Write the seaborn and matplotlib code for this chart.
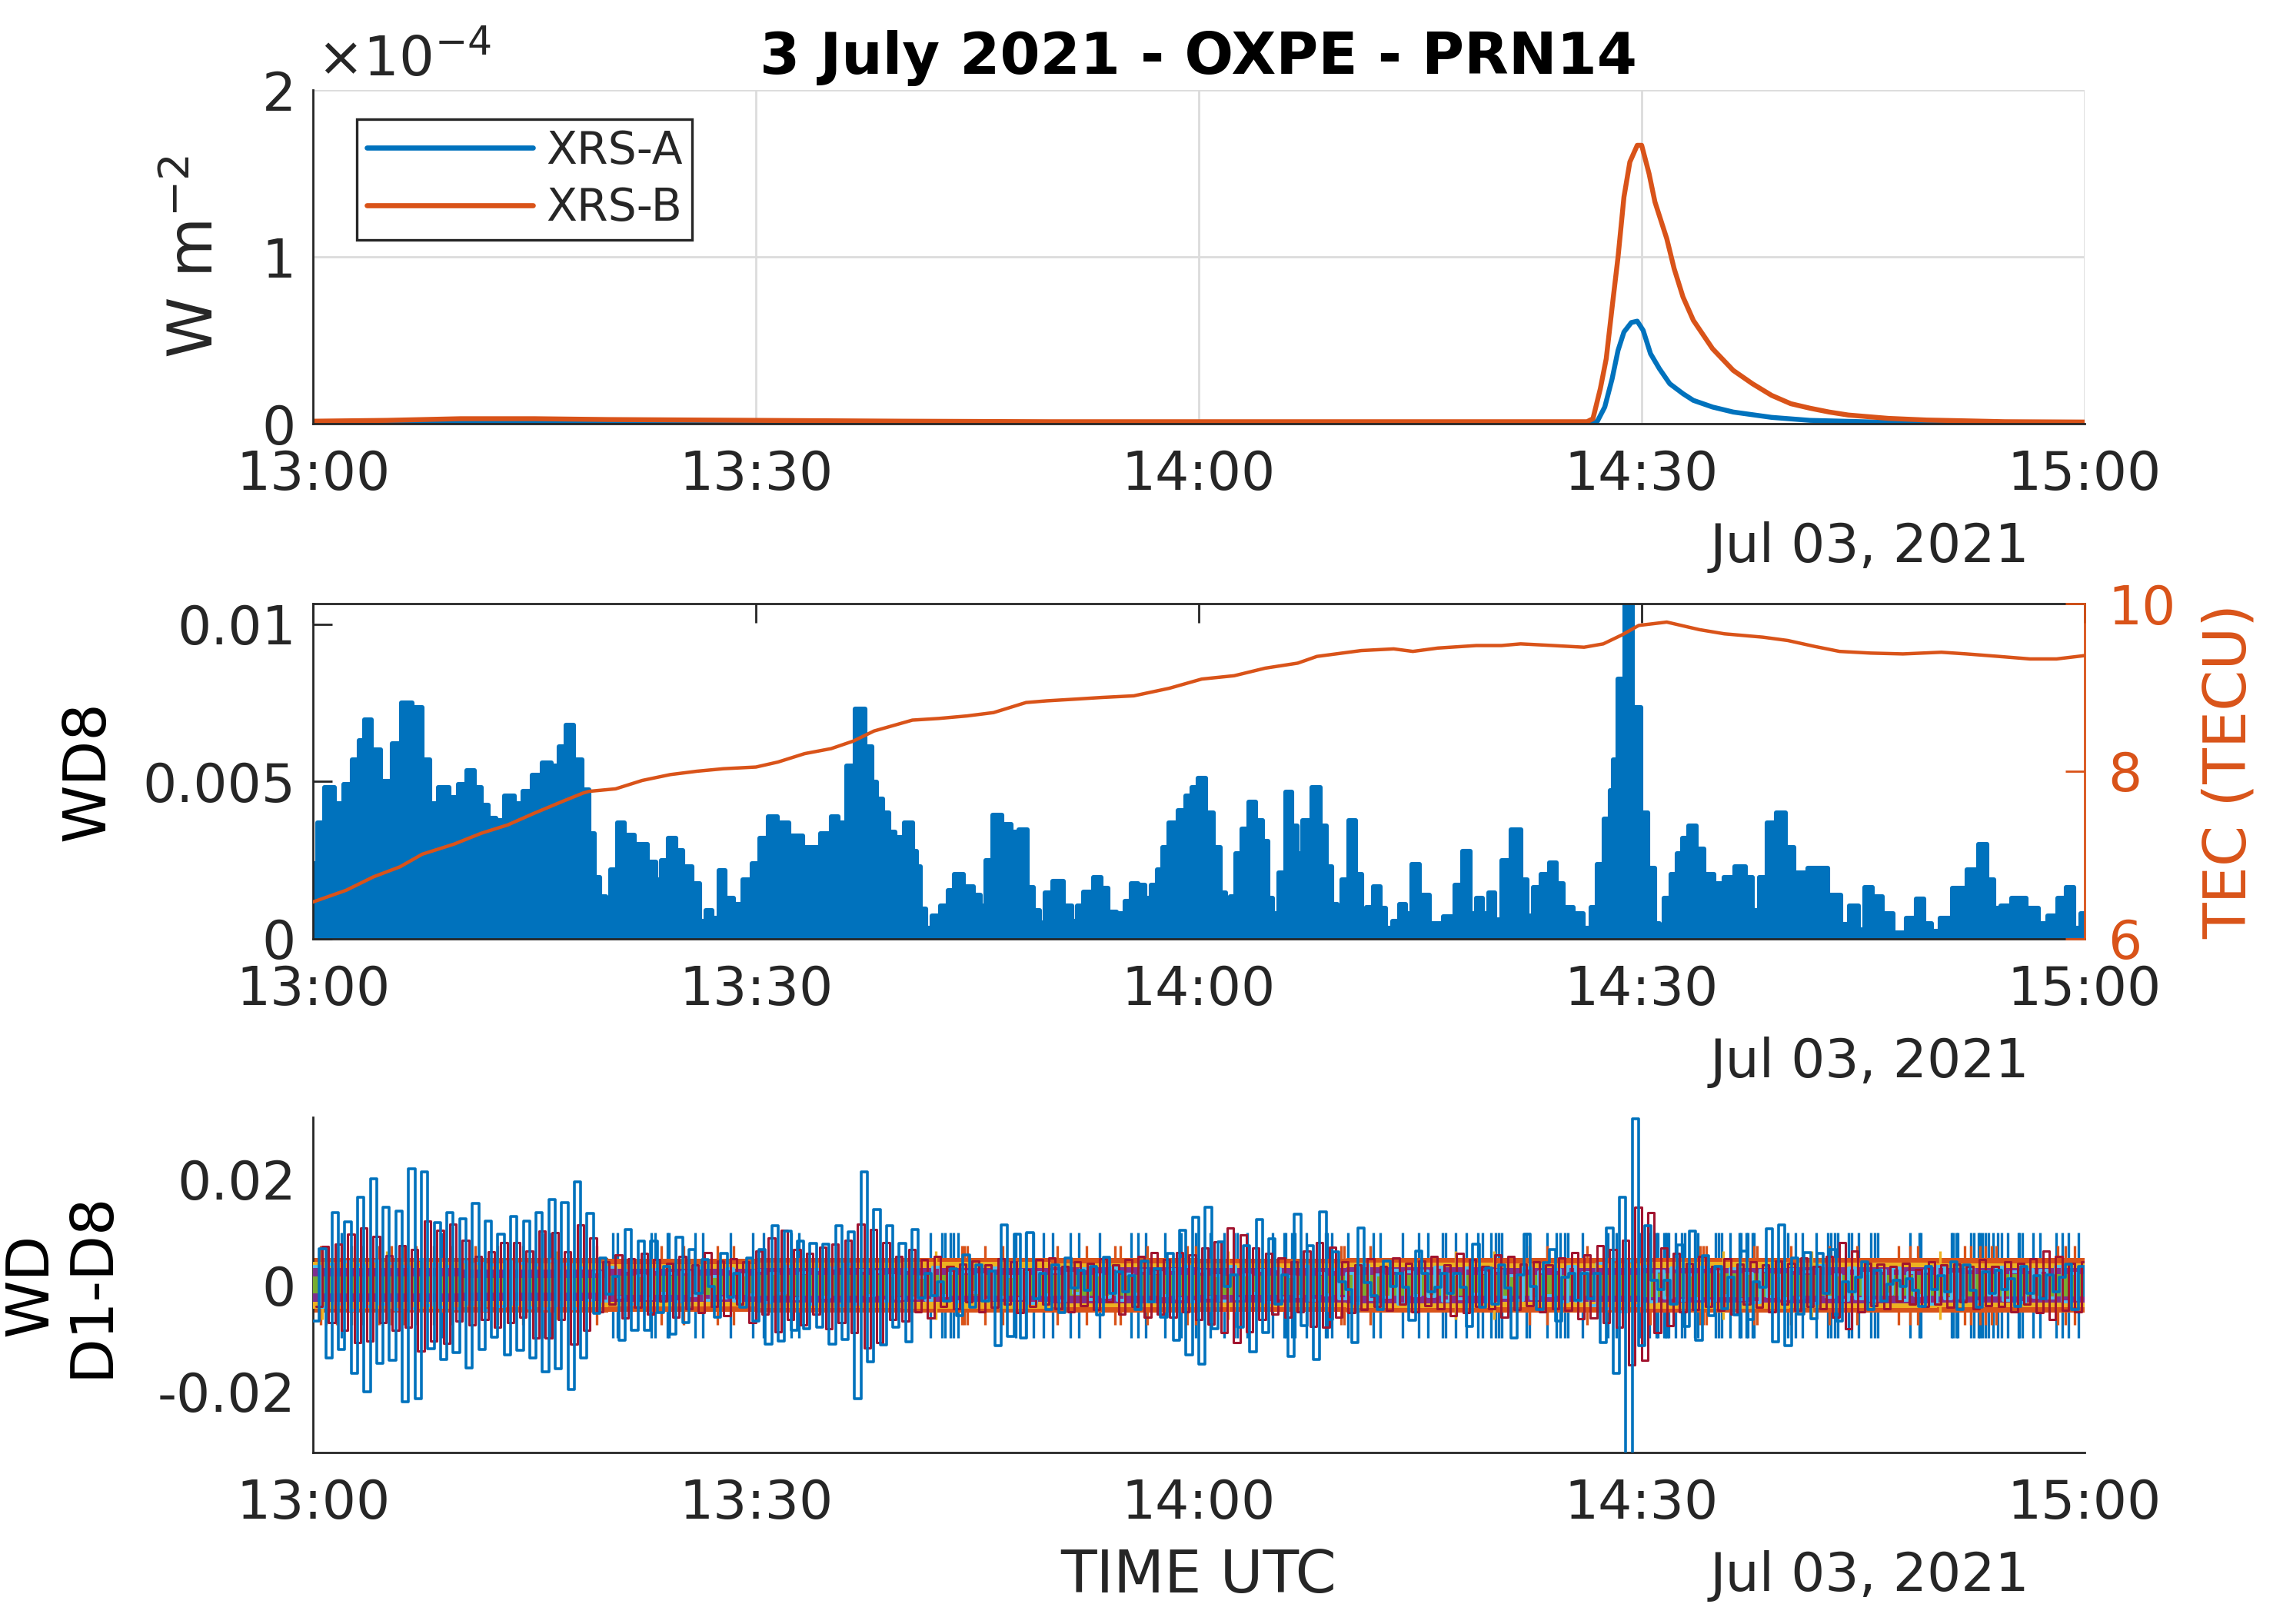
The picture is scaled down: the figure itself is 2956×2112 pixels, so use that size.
import numpy as np
import matplotlib
matplotlib.use('Agg')
import matplotlib.pyplot as plt
import seaborn as sns

# MATLAB default line colours
BLUE = '#0072BD'
ORANGE = '#D95319'
YELLOW = '#EDB120'
PURPLE = '#7E2F8E'
GREEN = '#77AC30'
CYAN = '#4DBEEE'
RED = '#A2142F'
INK = '#262626'

# x axis: minutes after 13:00 UTC
tick_pos = [0, 30, 60, 90, 120]
tick_labels = ['13:00', '13:30', '14:00', '14:30', '15:00']
date_label = 'Jul 03, 2021'

# --- GOES X-ray flux (units of 1e-4 W m^-2) ---
xrs_a_min = [0, 20, 40, 60, 80, 86.6, 87.0, 87.5, 88.0, 88.4, 88.8, 89.3, 89.7, 90.1, 90.6,
             91.2, 91.9, 92.8, 93.5, 94.8, 96.2, 98.8, 101.4, 106.7, 120]
xrs_a = [0.003, 0.004, 0.002, 0.001, 0.001, 0.002, 0.015, 0.10, 0.27, 0.44, 0.55, 0.607, 0.615,
         0.56, 0.42, 0.33, 0.24, 0.18, 0.14, 0.10, 0.07, 0.038, 0.02, 0.008, 0.002]
xrs_b_min = [0, 5, 10, 15, 20, 30, 40, 50, 60, 70, 80, 86.3, 86.7, 87.2, 87.6, 88.0, 88.4, 88.8,
             89.2, 89.7, 90.0, 90.5, 90.9, 91.7, 92.2, 92.8, 93.5, 94.8, 96.2, 97.5, 98.8, 100.1,
             101.4, 102.7, 104.0, 106.7, 109.3, 112.0, 114.6, 120]
xrs_b = [0.015, 0.02, 0.03, 0.03, 0.025, 0.02, 0.015, 0.012, 0.012, 0.012, 0.012, 0.012, 0.03,
         0.21, 0.39, 0.70, 1.0, 1.36, 1.57, 1.67, 1.67, 1.50, 1.33, 1.11, 0.93, 0.76, 0.62, 0.45,
         0.32, 0.24, 0.17, 0.12, 0.093, 0.07, 0.052, 0.032, 0.022, 0.017, 0.012, 0.01]

# --- WD8 envelope (units of 1e-3) ---
wd8_min = [0.0, 0.1, 0.5, 1.1, 1.8, 2.4, 2.9, 3.3, 3.7, 4.2, 5.0, 5.7, 6.3, 7.1, 7.7, 8.1, 8.9,
           9.5, 10.2, 10.65, 11.2, 11.6, 12.1, 12.65, 13.3, 13.95, 14.5, 15.2, 15.85, 16.4, 16.9,
           17.4, 17.95, 18.5, 18.9, 19.2, 19.7, 20.0, 20.3, 20.9, 21.3, 22.2, 23.1, 23.4, 23.8,
           24.35, 24.8, 25.35, 26.0, 26.4, 26.8, 27.3, 27.65, 28.2, 28.75, 29.5, 30.0, 30.55,
           31.1, 31.85, 32.6, 33.75, 34.95, 35.3, 35.85, 36.4, 37.05, 37.7, 38.0, 38.4, 38.8,
           39.2, 39.7, 40.4, 40.8, 41.0, 41.3, 41.7, 42.15, 42.8, 43.2, 43.7, 44.45, 45.0, 45.4,
           45.7, 46.35, 47.0, 47.55, 48.1, 48.65, 49.0, 49.4, 49.75, 50.45, 51.2, 51.6, 51.9,
           52.5, 53.2, 53.6, 54.1, 54.8, 55.2, 55.6,
           56.2, 56.5, 57.0, 57.4, 57.7, 58.25, 58.9, 59.35, 59.7, 60.2, 60.75, 61.25, 61.7,
           61.95, 62.3, 62.7, 63.1, 63.65, 64.1, 64.5, 64.85, 65.2, 65.6, 66.15, 66.5, 66.8, 67.3,
           68.0, 68.5, 68.8, 69.2, 69.5, 69.9, 70.4, 70.9, 71.2, 71.55, 72.1, 72.5, 72.8, 73.4,
           73.8, 74.2, 74.7, 75.2, 76.05, 77.05, 77.6, 78.15, 78.6, 79.0, 79.4, 79.85, 80.3, 80.7,
           81.6, 82.1, 82.4, 82.9, 83.5, 84.05, 84.4, 84.95, 85.8, 86.3, 86.8, 87.2, 87.75, 88.0,
           88.2, 88.6, 89.1, 89.7, 90.2, 90.65, 91.1, 91.3, 91.75, 92.2, 92.6, 92.9, 93.45, 93.9,
           94.55, 95.2, 95.95, 96.7, 97.35, 97.7, 98.2, 98.75, 99.5, 100.0, 100.6, 101.95, 103.3,
           103.7, 104.45, 104.9, 105.3, 106.0, 106.6, 107.45, 108.35, 108.8, 109.4, 109.9, 110.5,
           111.6, 112.5, 113.1, 113.65, 114.1, 114.6, 115.55, 116.55, 117.2, 117.85, 118.5, 119.0,
           119.5, 120.0]
wd8_val = [0.6, 2.4, 3.7, 4.8, 4.3, 4.9, 5.7, 6.3, 6.95, 6.0, 5.0, 6.2, 7.5, 7.35, 5.7, 4.3, 4.8,
           4.5, 4.9, 5.35, 4.8, 4.25, 3.84, 3.76, 4.54, 4.3, 4.7, 5.2, 5.6, 5.5, 6.1,
           6.8, 5.7, 4.75, 3.35, 1.96, 1.35, 1.06, 2.2, 3.7, 3.3, 3.0, 2.45, 1.88, 2.5,
           3.2, 2.8, 2.3, 1.75, 0.57, 0.9, 0.66, 2.17, 1.3, 1.1, 1.88, 2.4, 3.2,
           3.88, 3.68, 3.27, 2.9, 3.35, 3.88, 3.68, 5.5, 7.3, 6.1, 4.98, 4.45, 4.0,
           3.4, 3.23, 3.68, 2.78, 2.3, 0.94, 0.33, 0.74, 1.06, 1.55, 2.04, 1.67, 1.4, 1.06,
           2.49, 3.92, 3.63, 3.4, 3.47, 1.63, 0.9, 0.5, 1.47, 1.83, 1.06, 0.57, 1.06,
           1.5, 1.96, 1.6, 0.86, 0.8, 1.2, 1.75,
           1.72, 1.3, 1.72, 2.2, 2.9, 3.68, 4.08, 4.54, 4.8, 5.1, 4.0, 2.9, 1.47,
           0.33, 1.35, 2.7, 3.5, 4.35, 3.76, 3.1, 1.3, 0.8, 2.1, 4.66, 3.6, 2.7, 3.76,
           4.8, 3.6, 2.3, 1.1, 0.74, 1.88, 3.76, 2.04, 0.74, 1.0, 1.67, 0.98, 0.33, 0.57,
           1.1, 0.8, 2.37, 1.4, 0.49, 0.7, 1.72, 2.78, 0.8, 1.3, 0.8, 1.47, 0.6, 2.5,
           3.47, 1.88, 0.74, 1.63, 2.04, 2.41, 1.75, 1.0, 0.8, 0.33, 1.0, 2.37, 3.8, 4.72,
           5.7, 8.25, 12.0, 7.36, 4.0, 2.25, 0.49, 0.2, 1.3, 2.04, 2.7, 3.2, 3.6, 2.85,
           2.04, 1.75, 1.96, 2.3, 1.96, 0.9, 1.96, 3.68, 4.0, 2.9, 2.1, 2.25, 1.4,
           0.46, 1.06, 0.3, 1.63, 1.35, 0.8, 0.2, 0.66, 1.27, 0.49, 0.25, 0.66,
           1.6, 2.2, 3.0, 1.88, 0.98, 1.06, 1.3, 0.98, 0.49, 0.74, 1.3, 1.63,
           0.33, 0.8]

# --- TEC (TECU) ---
tec_min = [0, 2.25, 4.1, 5.9, 7.4, 9.55, 11.4, 13.2, 15.0, 16.9, 18.3, 18.7, 20.5, 22.3, 24.2,
           26.0, 27.8, 30.0, 31.5, 33.3, 35.1, 36.6, 38.0, 40.6, 42.4, 44.3, 46.1, 47.2, 48.3,
           49.7, 51.6, 53.4, 55.6, 58.0, 60.2, 62.4, 64.5, 66.7, 68.0, 71.0, 73.2, 74.5, 76.2,
           78.8, 80.5, 81.8, 84.0, 86.1, 87.4, 88.7, 89.8, 91.7, 93.9, 95.6, 98.2, 99.9, 101.7,
           103.4, 105.5, 107.7, 110.3, 112.0, 114.2, 116.3, 118.1, 120.0]
tec = [6.44, 6.58, 6.74, 6.86, 7.01, 7.13, 7.26, 7.36, 7.50, 7.64, 7.74, 7.76, 7.79, 7.89, 7.96,
       8.0, 8.03, 8.05, 8.11, 8.21, 8.27, 8.36, 8.48, 8.61, 8.63, 8.66, 8.70, 8.76, 8.82,
       8.84, 8.86, 8.88, 8.90, 8.99, 9.10, 9.14, 9.23, 9.29, 9.37, 9.44, 9.46, 9.43, 9.47,
       9.50, 9.50, 9.52, 9.50, 9.48, 9.52, 9.63, 9.74, 9.78, 9.69, 9.64, 9.60, 9.56, 9.49,
       9.43, 9.41, 9.40, 9.42, 9.40, 9.37, 9.34, 9.34, 9.38]

# --- wavelet details D1-D8 (units of 1e-3) ---
# D8: one value per half cycle
d8 = [-6.8, 6.9, -13.8, 13.8, -12.1, 12.0, -16.6, 16.7, -20.2, 20.2,
      -14.8, 14.7, -14.2, 14.1, -22.0, 22.0, -21.5, 21.4, -12.0, 11.9,
      -14.1, 13.8, -12.7, 12.6, -15.6, 15.5, -12.2, 12.1, -9.8, 9.7,
      -13.1, 13.0, -12.3, 12.1, -13.8, 13.7, -16.3, 16.2, -15.8, 15.7,
      -19.7, 19.6, -13.8, 13.6,
      -5.3, 5.2, -1.7, 1.6, -10.4, 10.5, -8.5, 8.4, -8.5, 8.4,
      -5.1, 3.6, -9.2, 9.1, -7.0, 6.7, -1.5, 4.9, -0.2, -6.0,
      6.1, -2.2, 2.2, -4.1, 5.1, -6.8,
      6.8, -11.2, 11.2, -10.5, 10.3, -8.5, 8.3, -8.2, 7.9, -8.0,
      7.8, -11.2, 11.2, -10.2, 10.1, -21.4, 21.4, -14.4, 14.3, -11.3,
      11.2, -8.0, 7.9, -10.7, 10.5, -2.4, 2.3, -2.0, 0.7, -3.0,
      3.1, -5.8, 5.7, -4.1, 3.8, -3.0, 2.7, -11.4, 11.4, -9.7,
      9.6, -10.0, 9.9,
      -2.5, 2.2, -4.6, 3.9, -5.1, 5.2, -0.5, 2.8, -1.0, 3.6,
      -5.6, 5.3, -1.5, 2.5, -1.2, 1.8, -4.6, 4.6, -3.1, 3.1,
      -6.0, 6.0, -10.4, 10.4, -13.1, 12.9, -14.9, 14.8,
      -8.2, 8.2, -0.2, 2.0, -8.0, 7.5, -12.6, 12.5, -9.0, 8.8,
      -3.5, 2.0, -13.5, 13.4, -7.6, 7.5, -14.1, 13.9, -6.5, 6.3,
      0.7, -0.8, -10.9, 10.8, 0.5, -2.0, -4.6, 4.6, -0.2, 2.2,
      -0.3, -6.6, 6.5, 2.2, -1.2, -0.3, 2.2, -1.6, 2.2, -0.3,
      -7.8, 7.8, -4.1, 3.2, -3.6, 3.9, -0.5, -10.0, 2.0, 9.7,
      -0.2, -4.6, 4.3, 6.7, -6.8, 1.5, 2.2, -2.8, 2.2, -2.5,
      2.2, -10.9, 10.8, -16.7, 16.7, -33.0, 31.5, -11.4, 11.3,
      0.9, -0.8, 0.9, -3.5, 7.7, -7.8, 10.3, -10.4, 5.6, -5.8,
      3.6, -4.4, 1.5, -5.6, 6.5, -6.5, 0.7, -0.3, 10.7, -10.7,
      11.4, -11.4, 5.2, -5.5, 6.2, -6.3, 6.0, -1.5, 6.7, -6.8,
      0.7, -1.3, 1.5, 4.5, -4.6, 2.8, -3.0, 0.2, 1.0, -0.2,
      1.2, -1.0, -4.0, 3.6, -0.8, 1.8, -1.2, 4.5, -4.6, 3.8,
      -1.0, -4.1, 2.5, -1.5, 2.8, -0.8, 1.2, -4.0, 3.6, -1.5,
      1.8, -2.5, 2.0, -1.2, 1.5, 4.0, -4.6, 3.6, -2.0]

d7 = [-4.0, 7.3, -7.0, 7.8, -8.5, 9.6, -10.9, 10.9, -10.5, 9.2,
      -7.0, 5.6, -8.5, 7.5, -8.0, 6.8, -12.4, 12.1, -10.5, 10.4,
      -11.0, 11.6, -6.8, 8.5, -7.5, 5.5, -6.5, 6.3, -8.0, 8.0,
      -7.0, 8.0, -6.0, 6.5, -9.9, 10.2, -10.0, 10.0, -6.5, 6.3,
      -11.2, 11.4, -8.5, 9.0,
      -5.0, 4.5, -3.5, 5.8, -6.2, 5.0, -4.2, 6.0, -5.5, 4.8,
      -3.0, 4.2, -6.0, 5.5, -4.5, 3.8, -5.2, 6.2, -4.0, 4.6,
      -5.8, 5.0, -3.6, 4.4, -7.0, 6.5, -5.5, 9.0, -8.8, 10.4,
      -6.5, 6.8, -7.5, 6.0, -5.5, 7.2, -8.2, 7.8, -7.0, 8.5,
      -9.0,
      11.5, -11.9, 10.6, -10.9, 8.0, -6.5,
      5.5, -6.8, 6.8, -5.0, 4.8, -6.2, 5.5, -4.0, 3.5, -4.5,
      4.0, -3.2, 4.6, -5.0, 3.8, -4.2, 5.0, -3.5, 4.4, -5.2,
      3.0, -4.0, 4.8, -3.6, 5.2, -4.4, 3.6, -5.0, 4.5, -3.8,
      4.2, -4.6, 5.0, -3.2, 3.9, -5.4, 4.8, -4.0, 5.5, -6.0,
      6.2, -5.5, 4.8, -6.1, 6.2, -5.0, 5.8, -6.5, 7.0, -7.4,
      8.2, -9.0, 10.9, -10.9, 9.5, -8.8, 7.0, -6.5, 6.0, -5.5,
      5.2, -6.0, 4.4, -5.0, 6.5, -7.8, 8.0, -8.0, 7.2, -6.0,
      4.5, -5.2, 3.8, -4.6, 5.0, -4.0, 3.5, -4.8, 5.2, -3.6,
      4.2, -5.0, 4.6, -3.8, 5.5, -4.5, 3.9, -5.8, 6.0, -5.2,
      4.8, -4.0, 3.6, -4.5, 5.8, -6.0, 5.5, -4.6, 4.0, -3.8,
      4.5, -5.0, 3.8, -4.4, 5.2, -4.8, 6.2, -6.4, 5.8, -6.2,
      7.5, -7.0, 6.8, -8.0,
      8.5, -15.0, 14.8, -14.2, 13.7, -9.0,
      7.0, -7.6, 6.0, -5.0, 4.2, -4.6, 5.5, -4.0, 3.6, -4.8,
      5.0, -5.5, 4.0, -3.6, 4.5, -4.2, 3.8, -5.0, 4.6, -3.5,
      4.2, -4.8, 5.2, -4.0, 3.6, -4.4, 5.5, -6.0, 8.0, -8.2,
      6.5, -5.0, 4.2, -3.8, 4.0, -4.5, 3.5, -3.0, 4.2, -3.6,
      3.0, -4.0, 4.4, -3.5, 3.8, -4.2, 4.0, -3.2, 3.6, -4.4,
      4.8, -3.8, 3.5, -4.0, 4.5, -5.0, 4.2, -3.6, 5.0, -5.2,
      6.4, -6.5, 5.5, -4.8, 4.2, -5.0, 4.4, -3.8]

# D6: one value per half minute
d6 = [3.5, -4.2, 4.0, -3.6, 4.4, -4.8, 3.8, -4.0, 4.6, -3.5,
      4.2, -4.6, 3.6, -4.4, 4.8, -3.8, 4.0, -4.2, 3.5, -4.5,
      4.4, -3.6, 4.2, -4.8, 3.9, -4.0, 4.5, -3.5, 4.1, -4.3,
      3.8, -4.4, 4.6, -3.9, 4.0, -4.5, 3.2, -2.8, 2.5, -3.0,
      3.4, -2.2, 2.8, -3.5, 1.8, -2.6, 3.0, -1.5, 2.2, -3.2,
      2.6, -2.0, 3.3, -2.8, 1.6, -2.4, 3.1, -3.0, 2.0, -1.8,
      2.9, -3.3, 2.2, -1.6, 3.5, -2.5, 2.4, -3.6, 3.0, -2.2,
      3.2, -3.8, 4.0, -3.5, 2.8, -2.0, 2.5, -3.0, 1.8, -2.6,
      3.0, -2.4, 1.5, -2.8, 3.4, -1.9, 2.2, -3.1, 2.6, -1.4,
      2.0, -2.9, 3.2, -2.3, 1.7, -2.5, 2.8, -3.4, 2.4, -1.8,
      2.5, -3.0, 2.2, -1.6, 3.1, -2.7, 1.9, -2.2, 3.3, -2.8,
      2.1, -1.7, 2.9, -3.2, 2.4, -2.0, 3.0, -2.6, 3.6, -3.1,
      2.7, -2.2, 1.8, -3.0, 3.5, -2.5, 2.0, -1.5, 2.8, -3.3,
      3.1, -2.4, 1.7, -2.1, 3.6, -2.9, 2.3, -1.8, 3.0, -2.6,
      2.2, -3.4, 3.8, -2.7, 1.9, -2.3, 2.9, -3.5, 2.5, -1.9,
      2.7, -2.1, 3.4, -3.0, 2.1, -2.6, 3.2, -1.7, 2.4, -3.1,
      2.8, -2.3, 1.8, -2.9, 3.3, -2.5, 2.6, -1.9, 3.0, -3.2,
      3.5, -3.0, 2.4, -3.8, 4.2, -4.4, 4.8, -5.0, 4.6, -3.9,
      3.6, -3.1, 2.7, -2.4, 3.2, -2.8, 2.0, -2.5, 3.4, -3.0,
      2.6, -1.9, 3.1, -2.7, 2.2, -3.3, 2.9, -2.1, 1.8, -2.6,
      3.0, -2.4, 2.5, -3.4, 3.7, -2.2, 1.9, -2.8, 3.2, -2.5,
      2.3, -3.0, 2.8, -1.7, 3.3, -2.9, 2.4, -2.0, 2.7, -3.5,
      3.6, -2.6, 2.1, -2.4, 3.1, -3.2, 2.6, -1.8, 3.4, -2.9,
      2.5, -3.3, 3.0, -2.2, 2.8, -2.4, 3.5, -3.1, 2.2, -2.7]

# D2-D5: dense bands, half-width per 10 minutes
band_min = [0, 10, 20, 30, 40, 50, 60, 70, 80, 90, 100, 110, 120]
d2_band = [5.1, 5.1, 5.0, 5.1, 5.1, 5.1, 5.0, 5.1, 5.1, 5.1, 5.1, 5.1, 5.1]
d3_band = [4.4, 4.2, 4.0, 4.3, 4.4, 4.2, 4.1, 4.3, 4.2, 4.4, 4.3, 4.2, 4.2]
d4_band = [3.2, 3.0, 3.1, 3.3, 3.2, 3.4, 3.3, 3.4, 3.2, 3.3, 3.4, 3.3, 3.3]
d5_band = [1.6, 1.4, 1.8, 1.9, 2.0, 1.9, 1.8, 2.0, 1.9, 2.2, 2.0, 2.1, 2.1]

# isolated spikes (minutes)
d1_spikes = [1.9, 8.75, 15.7, 16.1, 20.3, 20.6, 22.9, 23.2, 24.0, 24.1, 25.9, 26.4, 28.3, 29.8,
             30.5, 32.4, 32.9, 41.8, 42.6, 42.8, 43.2, 43.4, 43.7, 47.6, 48.3, 48.8, 49.5, 50.1,
             51.3, 51.9, 53.3, 55.4, 55.9, 56.4, 57.7, 58.8, 59.8, 60.8, 61.7, 62.4, 62.6, 63.3,
             65.0, 65.8, 65.9, 66.3, 66.5, 67.3, 68.6, 68.7, 69.0, 70.1, 71.8, 72.3, 73.8, 74.9,
             75.5, 76.5, 76.7, 77.4, 78.1, 78.9, 79.2, 79.8, 80.1, 80.3, 80.5, 82.2, 82.4, 83.6,
             84.2, 84.5, 84.8, 85.0, 86.0, 87.7, 88.3, 89.9, 90.5, 91.0, 91.1, 91.5, 91.6, 91.7,
             91.8, 92.3, 92.7, 92.9, 93.6, 93.8, 95.0, 95.2, 95.4, 96.0, 96.6, 96.7, 97.1, 97.2,
             97.5, 97.6, 99.9, 100.4, 100.9, 101.8, 102.6, 102.8, 103.1, 103.3, 104.0, 104.2,
             104.7, 105.5, 105.8, 106.0, 108.2, 108.8, 108.9, 111.0, 111.1, 111.3, 111.4, 112.3,
             112.5, 112.8, 112.9, 113.1, 113.3, 113.5, 113.8, 114.1, 114.4, 114.8, 115.5, 115.6,
             115.8, 116.5, 117.0, 118.1, 118.5, 118.9, 119.6]
d2_spikes = [0.5, 0.9, 1.6, 2.6, 3.4, 4.5, 5.3, 6.1, 7.0, 8.2, 9.4, 11.0, 12.5, 14.2, 19.2, 23.6,
             25.1, 27.4, 28.5, 43.95, 44.1, 44.3, 45.5, 46.7, 50.4, 52.4, 54.3, 54.7, 56.5, 59.2,
             59.8, 69.65, 69.85, 71.6, 82.4, 83.6, 86.3, 87.6, 90.6, 93.95, 94.15, 94.4, 97.6,
             97.8, 100.1, 102.7, 104.6, 107.4, 108.2, 108.7, 111.9, 112.3, 112.9, 113.3, 113.7,
             114.0, 118.2, 118.7, 119.3]
d3_spikes = [0.6, 5.0, 16.5, 42.2, 62.0, 77.4, 80.0, 95.5, 101.5, 110.2]

# ---------------------------------------------------------------------------
sns.set_style('white')
plt.rcParams['font.family'] = ['DejaVu Sans']
plt.rcParams['mathtext.fontset'] = 'dejavusans'
TICK = 25
LAB = 27.5

fig = plt.figure(figsize=(14.78, 10.56), dpi=200)
ax1 = fig.add_axes([0.1377, 0.7391, 0.7794, 0.2053])
ax2 = fig.add_axes([0.1377, 0.4219, 0.7794, 0.2064])
ax3 = fig.add_axes([0.1377, 0.1057, 0.7794, 0.2064])


def style_axis(ax):
    ax.set_xlim(0, 120)
    ax.set_xticks(tick_pos)
    ax.set_xticklabels(tick_labels)
    ax.tick_params(direction='in', length=9, width=1.0, colors=INK, labelsize=TICK)
    ax.tick_params(axis='x', pad=12)
    ax.tick_params(axis='y', pad=8)
    for s in ax.spines.values():
        s.set_color(INK)
        s.set_linewidth(1.0)
    ax.text(0.969, -0.369, date_label, transform=ax.transAxes, ha='right', va='center',
            fontsize=TICK, color=INK)


# Plot 1: X-ray flux
sns.lineplot(x=xrs_a_min, y=xrs_a, ax=ax1, color=BLUE, lw=2.3, label='XRS-A')
sns.lineplot(x=xrs_b_min, y=xrs_b, ax=ax1, color=ORANGE, lw=2.3, label='XRS-B')
style_axis(ax1)
ax1.set_ylim(0, 2)
ax1.set_yticks([0, 1, 2])
ax1.set_yticklabels(['0', '1', '2'])
ax1.spines['top'].set_visible(False)
ax1.spines['right'].set_visible(False)
ax1.grid(True, color='#dcdcdc', lw=1.0)
ax1.set_axisbelow(True)
ax1.set_xlabel('')
ax1.set_ylabel('')
leg = ax1.legend(loc='upper left', bbox_to_anchor=(0.0247, 0.9135), borderaxespad=0,
                 fontsize=21, fancybox=False, edgecolor=INK, framealpha=1,
                 handlelength=3.7, handletextpad=0.3, borderpad=0.22, labelspacing=0.3)
leg.get_frame().set_linewidth(1.2)
for line in leg.get_lines():
    line.set_linewidth(2.4)
ax1.text(0.002, 1.045, r'$\times$10$^{-4}$', transform=ax1.transAxes, ha='left',
         va='baseline', fontsize=26, color=INK)
ax1.text(0.5, 1.05, '3 July 2021 - OXPE - PRN14', transform=ax1.transAxes, ha='center',
         va='baseline', fontsize=27, fontweight='bold', color='black')
ax1.text(-0.066, 0.5, r'W m$^{-2}$', transform=ax1.transAxes, rotation=90, ha='center',
         va='center', fontsize=29, color=INK)

# Plot 2: WD8 with TEC
ax2.fill_between(wd8_min, 0, np.array(wd8_val) * 1e-3, step='mid', color=BLUE, lw=0)
ax2.step(wd8_min, np.array(wd8_val) * 1e-3, where='mid', color=BLUE, lw=2.2,
         solid_joinstyle='round')
style_axis(ax2)
ax2.set_ylim(0, 0.01065)
ax2.set_yticks([0, 0.005, 0.01])
ax2.set_yticklabels(['0', '0.005', '0.01'])
ax2.tick_params(axis='x', top=True)
ax2.spines['right'].set_visible(False)
ax2.text(-0.127, 0.5, 'WD8', transform=ax2.transAxes, rotation=90, ha='center', va='center',
         fontsize=LAB, color='black')

ax2r = ax2.twinx()
sns.lineplot(x=tec_min, y=tec, ax=ax2r, color=ORANGE, lw=1.6)
ax2r.set_xlim(0, 120)
ax2r.set_ylim(6, 10)
ax2r.set_yticks([6, 8, 10])
ax2r.set_yticklabels(['6', '8', '10'])
ax2r.set_ylabel('')
ax2r.tick_params(axis='y', direction='in', length=9, width=1.0, colors=ORANGE,
                 labelsize=TICK, pad=11)
for name in ['left', 'top', 'bottom']:
    ax2r.spines[name].set_visible(False)
ax2r.spines['right'].set_color(ORANGE)
ax2r.spines['right'].set_linewidth(1.0)
ax2r.text(1.082, 0.5, 'TEC (TECU)', transform=ax2r.transAxes, rotation=90, ha='center',
          va='center', fontsize=LAB, color=ORANGE)

# Plot 3: wavelet details D1-D8
ax3.vlines(d1_spikes, -0.01, 0.01, color=BLUE, lw=1.2, zorder=1)
ax3.fill_between(band_min, -np.array(d2_band) * 1e-3, np.array(d2_band) * 1e-3, step='post',
                 color=ORANGE, lw=0, zorder=2)
ax3.vlines(d2_spikes, -0.0075, 0.0075, color=ORANGE, lw=1.2, zorder=2)
ax3.fill_between(band_min, -np.array(d3_band) * 1e-3, np.array(d3_band) * 1e-3, step='post',
                 color=YELLOW, lw=0, zorder=3)
ax3.vlines(d3_spikes, -0.0065, 0.0065, color=YELLOW, lw=1.2, zorder=3)
ax3.fill_between(band_min, -np.array(d4_band) * 1e-3, np.array(d4_band) * 1e-3, step='post',
                 color=PURPLE, lw=0, zorder=4)
ax3.fill_between(band_min, -np.array(d5_band) * 1e-3, np.array(d5_band) * 1e-3, step='post',
                 color=GREEN, lw=0, zorder=5)

t6 = np.arange(len(d6)) * 0.5
ax3.step(t6, np.array(d6) * 1e-3, where='post', color=CYAN, lw=1.4, zorder=6)
step8 = 120 / (len(d8) - 1)
t7 = 0.2 + np.arange(len(d7)) * step8
ax3.step(t7, np.array(d7) * 1e-3, where='post', color=RED, lw=1.1, zorder=7)
t8 = np.arange(len(d8)) * step8
ax3.step(t8, np.array(d8) * 1e-3, where='post', color=BLUE, lw=1.3, zorder=8)

style_axis(ax3)
ax3.set_ylim(-0.0316, 0.0318)
ax3.set_yticks([-0.02, 0, 0.02])
ax3.set_yticklabels(['-0.02', '0', '0.02'])
ax3.spines['top'].set_visible(False)
ax3.spines['right'].set_visible(False)
ax3.text(-0.142, 0.5, 'WD\nD1-D8', transform=ax3.transAxes, rotation=90, ha='center',
         va='center', fontsize=LAB, color='black', linespacing=1.1)
ax3.text(0.5, -0.369, 'TIME UTC', transform=ax3.transAxes, ha='center', va='center',
         fontsize=LAB, color=INK)

fig.savefig('out.png', dpi=200)
